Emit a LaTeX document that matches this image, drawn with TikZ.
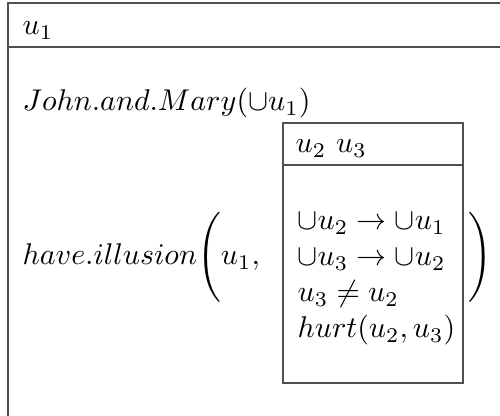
\documentclass[tikz,border=0pt]{standalone}
\usepackage{amsmath,amssymb}
\usepackage{tikz}
\usetikzlibrary{positioning}
\definecolor{BoxLine}{HTML}{505050}
\tikzset{
  drsline/.style={draw=BoxLine, line width=0.5pt},
  drstext/.style={anchor=base west, inner sep=0pt}
}

\begin{document}
\begin{tikzpicture}[x=0.3333pt,y=-0.3333pt]
  \useasboundingbox (0,0) rectangle (500,416);
  \clip (0,0) rectangle (500,416);
  % outer box, cut at the right and bottom
  \draw[drsline] (8,3) rectangle (530,440);
  \draw[drsline] (8,47) -- (530,47);
  \node[drstext] (refouter) at (22,35) {$u_1$};
  \node[drstext] (names) at (22,111) {$John.and.Mary(\cup u_1)$};
  \node[drstext] (pred) at (22,265) {$have.illusion\Bigg(u_1,$};
  % inner box
  \draw[drsline] (283,123) rectangle (463,383);
  \draw[drsline] (283,165) -- (463,165);
  \node[drstext] (refinner) at (295,153) {$u_2$ $u_3$};
  \node[drstext] (condone) at (297,230) {$\cup u_2 \rightarrow \cup u_1$};
  \node[drstext] (condtwo) at (297,266) {$\cup u_3 \rightarrow \cup u_2$};
  \node[drstext] (condthree) at (297,302) {$u_3 \neq u_2$};
  \node[drstext] (condfour) at (297,338) {$hurt(u_2,u_3)$};
  \node[drstext] (close) at (468,265) {$\Bigg)$};
\end{tikzpicture}
\end{document}
